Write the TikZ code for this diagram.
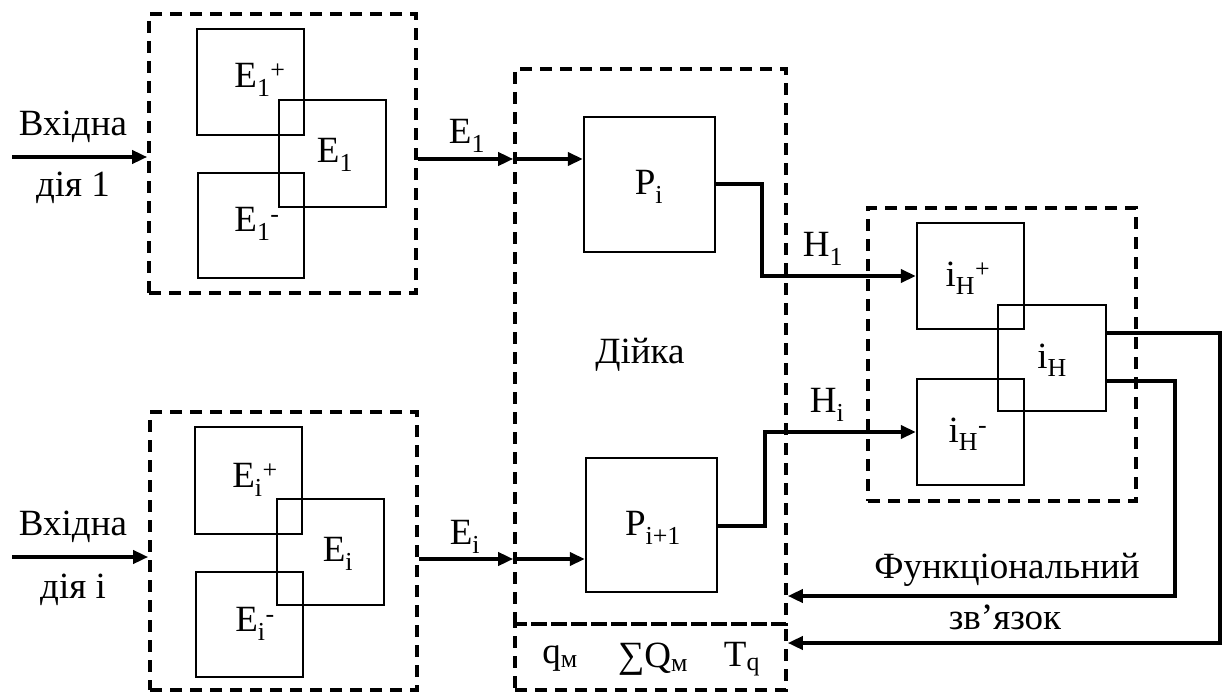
\documentclass[tikz,border=0pt]{standalone}
\usepackage{fontspec}
\setmainfont{Liberation Serif}
\usetikzlibrary{arrows.meta}
\begin{document}
\begin{tikzpicture}[x=1pt,y=-1pt,
  every node/.style={font=\fontsize{37}{44}\selectfont, inner sep=0pt},
  dbox/.style={draw, line width=3.6pt, dash pattern=on 12pt off 8pt},
  sbox/.style={draw, line width=2.3pt},
  arr/.style={line width=3.6pt, -{Triangle[length=15pt,width=13pt]}},
]
\useasboundingbox (0,0) rectangle (1223,693);

% dashed groups
\node[dbox, minimum width=267pt, minimum height=279pt] (tl) at (282.5,153.5) {};
\node[dbox, minimum width=267pt, minimum height=278pt] (bl) at (283.5,551) {};
\node[dbox, minimum width=271pt, minimum height=555pt] (dt) at (650.5,346.5) {};
\node[dbox, minimum width=271pt, minimum height=66pt] (db) at (650.5,657) {};
\node[dbox, minimum width=268pt, minimum height=293pt] (rb) at (1002,354.5) {};

% inner boxes
\node[sbox, minimum width=107pt, minimum height=106pt] (E1p) at (250.5,82) {};
\node[sbox, minimum width=107pt, minimum height=107pt] (E1) at (332.5,153.5) {};
\node[sbox, minimum width=106pt, minimum height=105pt] (E1m) at (251,225.5) {};
\node[sbox, minimum width=107pt, minimum height=107pt] (Eip) at (248.5,480.5) {};
\node[sbox, minimum width=107pt, minimum height=106pt] (Ei) at (330.5,552) {};
\node[sbox, minimum width=107pt, minimum height=105pt] (Eim) at (249.5,624.5) {};
\node[sbox, minimum width=131pt, minimum height=135pt] (Pi) at (649.5,184.5) {};
\node[sbox, minimum width=131pt, minimum height=134pt] (Pj) at (651.5,525) {};
\node[sbox, minimum width=107pt, minimum height=106pt] (iHp) at (970.5,276) {};
\node[sbox, minimum width=108pt, minimum height=106pt] (iH) at (1052,358) {};
\node[sbox, minimum width=107pt, minimum height=106pt] (iHm) at (970.5,432) {};

% texts in boxes
\node (tE1p) at (260,80) {E\textsubscript{1}\textsuperscript{+}};
\node (tE1) at (335,155) {E\textsubscript{1}};
\node (tE1m) at (257,224) {E\textsubscript{1}\textsuperscript{-}};
\node (tEip) at (255,480) {E\textsubscript{i}\textsuperscript{+}};
\node (tEi) at (338,554) {E\textsubscript{i}};
\node (tEim) at (255,624) {E\textsubscript{i}\textsuperscript{-}};
\node (tPi) at (649,187) {P\textsubscript{i}};
\node (tPj) at (653,528) {P\textsubscript{i+1}};
\node (tiHp) at (968,278) {i\textsubscript{H}\textsuperscript{+}};
\node (tiH) at (1052,360) {i\textsubscript{H}};
\node (tiHm) at (968,434) {i\textsubscript{H}\textsuperscript{-}};
\node (tDk) at (640,355) {Дійка};
\node (tq) at (560,659) {q\textsubscript{м}};
\node (tQ) at (653,659) {∑Q\textsubscript{м}};
\node (tT) at (742,659) {T\textsubscript{q}};

% free labels
\node (vx1) at (73,127) {Вхідна};
\node (di1) at (73,188) {дія 1};
\node (vx2) at (73,527) {Вхідна};
\node (di2) at (73,590) {дія і};
\node (lE1) at (467,136) {E\textsubscript{1}};
\node (lEi) at (465,537) {E\textsubscript{i}};
\node (lH1) at (823,249) {H\textsubscript{1}};
\node (lHi) at (827,405) {H\textsubscript{i}};
\node (lF) at (1007,570) {Функціональний};
\node (lZ) at (1005,617) {зв’язок};

% helper coordinates
\coordinate (in1) at (12,157);
\coordinate (in2) at (12,557);
\coordinate (y159) at (0,159);
\coordinate (y559) at (0,559);
\coordinate (y184) at (0,184);
\coordinate (y526) at (0,526);
\coordinate (y333) at (0,333);
\coordinate (y381) at (0,381);
\coordinate (xa) at (762,0);
\coordinate (xb) at (765,0);
\coordinate (xc) at (1220,0);
\coordinate (xd) at (1175,0);
\coordinate (y596) at (0,596);
\coordinate (y643) at (0,643);

% connectors
\draw[arr] (in1) -- (in1 -| tl.west);
\draw[arr] (in2) -- (in2 -| bl.west);
\draw[arr] (tl.east |- y159) -- (dt.west |- y159);
\draw[arr] (dt.west |- y159) -- (Pi.west |- y159);
\draw[arr] (bl.east |- y559) -- (dt.west |- y559);
\draw[arr] (dt.west |- y559) -- (Pj.west |- y559);
\draw[arr] (Pi.east |- y184) -| (xa |- iHp.west) -- (iHp.west);
\draw[arr] (Pj.east |- y526) -| (xb |- iHm.west) -- (iHm.west);
\draw[arr] (iH.east |- y333) -| (xc |- y643) -- (db.east |- y643);
\draw[arr] (iH.east |- y381) -| (xd |- y596) -- (dt.east |- y596);
\end{tikzpicture}
\end{document}
